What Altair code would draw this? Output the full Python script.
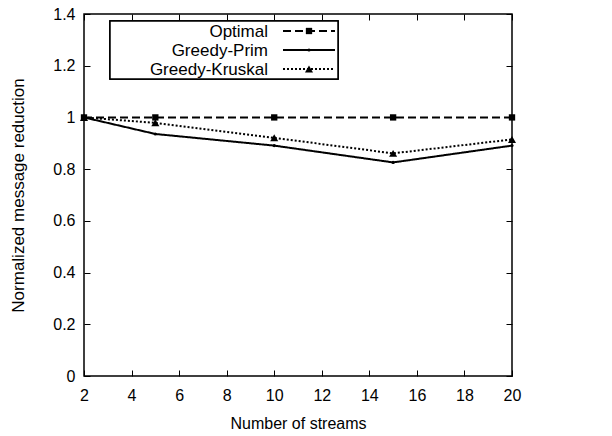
import altair as alt
import pandas as pd

streams = [2, 5, 10, 15, 20]
optimal = [1.0, 1.0, 1.0, 1.0, 1.0]
greedy_prim = [1.0, 0.936, 0.891, 0.826, 0.891]
greedy_kruskal = [1.0, 0.979, 0.921, 0.861, 0.915]
series_names = ["Optimal", "Greedy-Prim", "Greedy-Kruskal"]
y_ticks = [0, 0.2, 0.4, 0.6, 0.8, 1.0, 1.2, 1.4]
x_ticks = [2, 4, 6, 8, 10, 12, 14, 16, 18, 20]

W, H = 428, 362
FONT = "Liberation Sans"

values = {"Optimal": optimal, "Greedy-Prim": greedy_prim, "Greedy-Kruskal": greedy_kruskal}
styles = {
    "Optimal": dict(dash=[8, 4], shape="square", size=40),
    "Greedy-Prim": dict(dash=[1, 0], shape="circle", size=10),
    "Greedy-Kruskal": dict(dash=[2, 2], shape="triangle-up", size=65),
}

xs = alt.Scale(domain=[2, 20], nice=False, zero=False)
ys = alt.Scale(domain=[0, 1.4], nice=False)

x_axis = alt.Axis(values=x_ticks, title="Number of streams", tickSize=0, labelPadding=11,
                  labelFlush=False,
                  grid=True, gridColor="black", gridWidth=1, gridDash=[6, H - 12, 6],
                  gridOpacity=1, titlePadding=12, titleFontSize=16)
y_axis = alt.Axis(values=y_ticks, title="Normalized message reduction", format="~g",
                  tickSize=0, labelPadding=9, grid=True, gridColor="black", gridWidth=1,
                  gridDash=[6, W - 12, 6], gridOpacity=1, titlePadding=25, titleFontSize=17)

enc_x = alt.X("streams:Q", scale=xs, axis=x_axis)
enc_y = alt.Y("value:Q", scale=ys, axis=y_axis)

layers = []
for name in series_names:
    df = pd.DataFrame({"streams": streams, "value": values[name]})
    st = styles[name]
    line = alt.Chart(df).mark_line(color="black", strokeWidth=2, strokeDash=st["dash"],
                                   clip=True).encode(x=enc_x, y=enc_y)
    pts = alt.Chart(df).mark_point(color="black", filled=True, opacity=1, shape=st["shape"],
                                   size=st["size"]).encode(x=enc_x, y=enc_y)
    layers += [line, pts]

# legend box
leg_df = pd.DataFrame({"series": series_names})
box = alt.Chart(leg_df).mark_rect(fill="white", stroke="black", strokeWidth=1.5).encode(
    x=alt.value(26), x2=alt.value(254), y=alt.value(7), y2=alt.value(65))
layers.append(box)
row_y = [17, 36, 55]
for i, name in enumerate(series_names):
    st = styles[name]
    d = leg_df[leg_df.series == name]
    txt = alt.Chart(d).mark_text(align="right", baseline="middle", font=FONT, fontSize=17,
                                 color="black").encode(
        text="series:N", x=alt.value(184), y=alt.value(row_y[i] + 1))
    ln = alt.Chart(d).mark_rule(color="black", strokeWidth=2, strokeDash=st["dash"]).encode(
        x=alt.value(199), x2=alt.value(251), y=alt.value(row_y[i]))
    pt = alt.Chart(d).mark_point(color="black", filled=True, opacity=1, shape=st["shape"],
                                 size=st["size"]).encode(x=alt.value(225), y=alt.value(row_y[i]))
    layers += [txt, ln, pt]

chart = alt.layer(*layers).properties(
    width=W, height=H,
    background="white",
    autosize=alt.AutoSizeParams(type="none"),
    padding={"left": 84, "top": 14, "right": 100, "bottom": 60},
).configure_view(stroke="black", strokeWidth=1.5).configure_axis(
    labelFont=FONT, titleFont=FONT, labelFontSize=16,
    labelColor="black", titleColor="black", titleFontWeight="normal",
    domain=False,
)

chart.save("out.html", embed_options={"renderer": "svg", "actions": False})
